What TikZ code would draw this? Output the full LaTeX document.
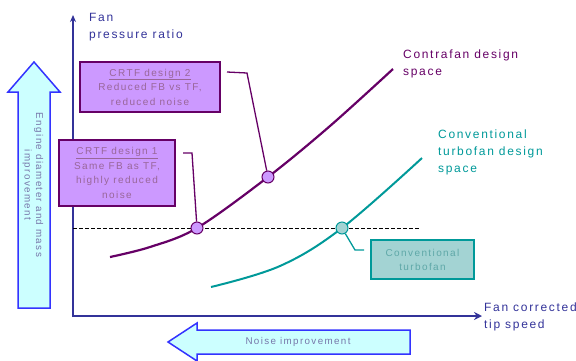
\documentclass[tikz,border=0pt]{standalone}
\usepackage{fontspec}
\setmainfont{Liberation Sans}[LetterSpace=14]
\usetikzlibrary{arrows.meta}
\definecolor{axisc}{HTML}{333399}
\definecolor{purp}{HTML}{660066}
\definecolor{tealc}{HTML}{009999}
\definecolor{boxp}{HTML}{CC99FF}
\definecolor{boxt}{HTML}{A3D3D3}
\definecolor{arrfill}{HTML}{CCFFFF}
\definecolor{arrdraw}{HTML}{3333FF}
\definecolor{arrtext}{HTML}{7777AA}
\definecolor{ptext}{HTML}{996699}
\definecolor{ttext}{HTML}{5FA8A8}
\tikzset{
  biglab/.style={align=left, anchor=north west, inner sep=0pt, font=\fontsize{12}{17}\selectfont},
  pbox/.style={draw=purp, fill=boxp, line width=1.5pt, text=ptext, align=center, inner sep=0pt, font=\fontsize{10}{14.5}\selectfont},
  tbox/.style={draw=tealc, fill=boxt, line width=1.5pt, text=ttext, align=center, inner sep=0pt, font=\fontsize{10}{14}\selectfont},
  pdot/.style={circle, draw=purp, fill=boxp, line width=1pt, minimum size=12pt, inner sep=0pt},
  tdot/.style={circle, draw=tealc, fill=boxt, line width=1pt, minimum size=12pt, inner sep=0pt},
  fatarrow/.style={draw=arrdraw, fill=arrfill, line width=1.5pt, line join=miter},
  arrlab/.style={text=arrtext, align=center, inner sep=0pt, font=\fontsize{9.8}{11.5}\selectfont},
}
\begin{document}
\begin{tikzpicture}[x=1pt,y=-1pt]
\useasboundingbox (0,0) rectangle (576,360);
% big fat arrows
\draw[fatarrow] (18,308) -- (18,92) -- (8,92) -- (34,62) -- (60,92) -- (50,92) -- (50,308) -- cycle;
\node[arrlab, rotate=-90] (eng) at (33,185) {Engine diameter and mass\\improvement};
\draw[fatarrow] (410,330) -- (197,330) -- (197,323) -- (168,342) -- (197,361) -- (197,354) -- (410,354) -- cycle;
\node[arrlab] (noise) at (298,342) {Noise improvement};
% axes
\coordinate (O) at (73,316);
\coordinate (ytop) at (73,15);
\coordinate (xend) at (482,316);
\draw[axisc, line width=1.3pt, -{Stealth[length=7pt,width=6pt]}] (73,317) -- (ytop);
\draw[axisc, line width=2.6pt, -{Stealth[length=8pt,width=8pt]}] (72,316) -- (xend);
\node[biglab, text=axisc] (ylab) at (89,13.4) {Fan\\pressure ratio};
\node[biglab, text=axisc] (xlab) at (484,302.4) {Fan corrected\\tip speed};
% dashed reference line
\coordinate (d0) at (73,228);
\coordinate (d1) at (420,228);
\draw[black, line width=0.9pt, dash pattern=on 4pt off 2pt] (d0) -- (d1);
% curves
\draw[purp, line width=2.2pt] plot[smooth, tension=0.55] coordinates {(110,257) (150,247) (197,228) (268,177) (330,126) (393,69)};
\draw[tealc, line width=2pt] plot[smooth, tension=0.6] coordinates {(211,287) (280,266) (342,228) (422,158)};
\node[biglab, text=purp] (ctext) at (403,49.4) {Contrafan design\\space};
\node[biglab, text=tealc] (ttextn) at (438,129.4) {Conventional\\turbofan design\\space};
% boxes
\node[pbox, minimum width=140pt, minimum height=50pt] (box2) at (150,87) {\underline{CRTF design 2}\\Reduced FB vs TF,\\reduced noise};
\node[pbox, minimum width=116pt, minimum height=66pt] (box1) at (117,173) {\underline{CRTF design 1}\\Same FB as TF,\\highly reduced\\noise};
\node[tbox, minimum width=103pt, minimum height=39pt] (box3) at (422.5,259.5) {Conventional\\turbofan};
% points
\node[pdot] (c1) at (197,228) {};
\node[pdot] (c2) at (268,177) {};
\node[tdot] (c3) at (342,228) {};
% leaders
\coordinate (l2a) at (227,72);
\coordinate (l2b) at (247,73);
\draw[purp, line width=1.3pt] (l2a) -- (l2b) -- (c2);
\coordinate (l1a) at (183,153);
\coordinate (l1b) at (192,153);
\draw[purp, line width=1.3pt] (l1a) -- (l1b) -- (c1);
\coordinate (l3a) at (355,250);
\coordinate (l3b) at (364,250);
\draw[tealc, line width=1.3pt] (c3) -- (l3a) -- (l3b);
\end{tikzpicture}
\end{document}
